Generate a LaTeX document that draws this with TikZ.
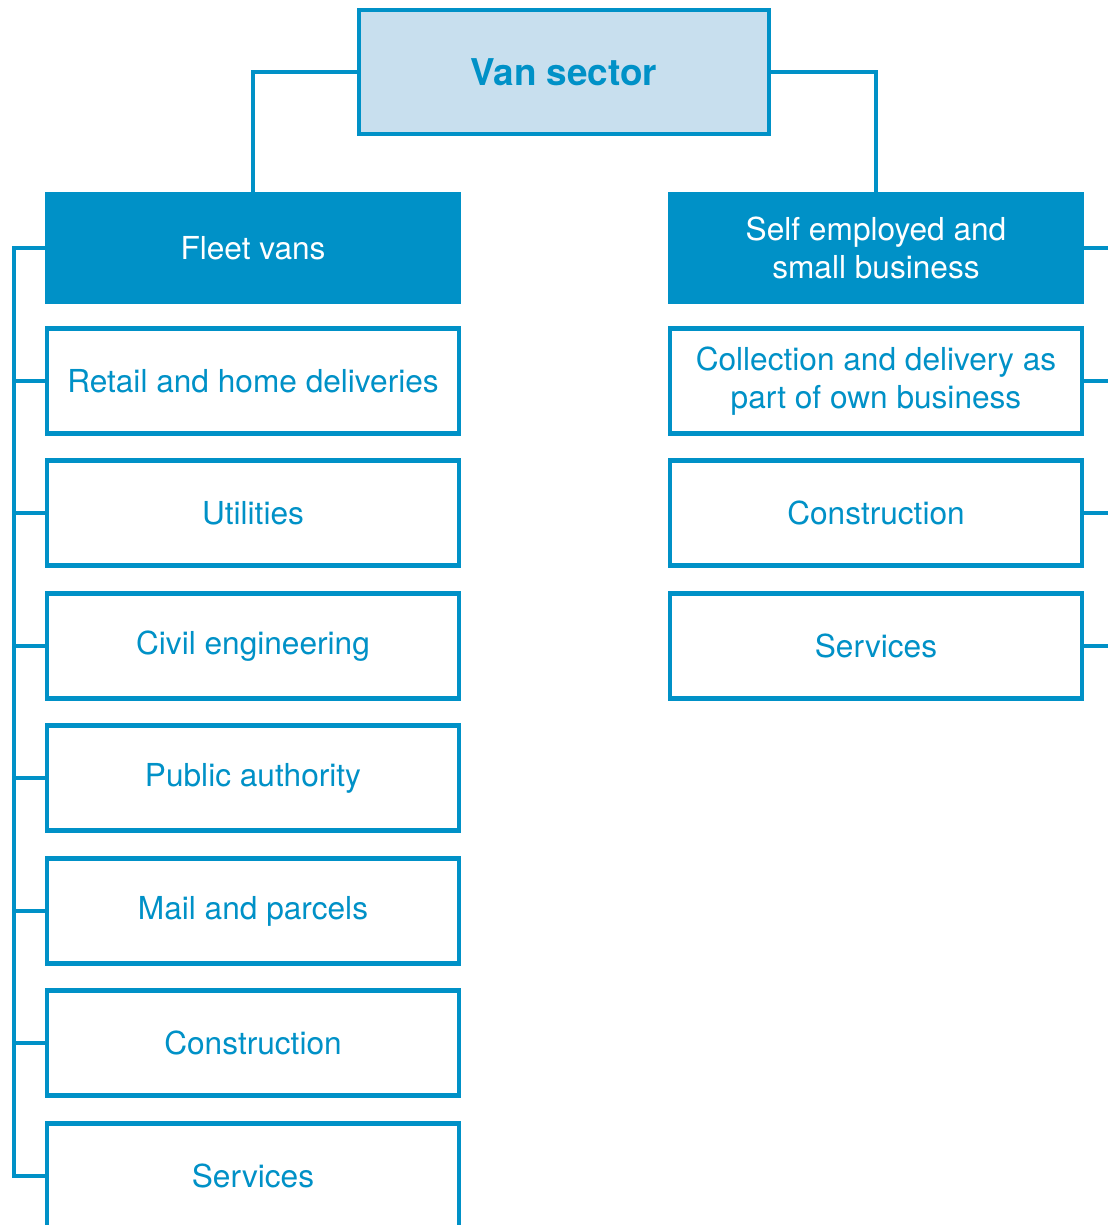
\documentclass[tikz,border=0pt]{standalone}
\usepackage{fontspec}
\setmainfont{TeX Gyre Heros}
\definecolor{vanblue}{HTML}{0091C7}
\definecolor{vanpale}{HTML}{C8DFEE}
\begin{document}
\begin{tikzpicture}[
    x=0.02cm, y=-0.02cm,
    link/.style={draw=vanblue, line width=2.3pt},
    rootbox/.style={draw=vanblue, line width=2.3pt, fill=vanpale, minimum width=410*0.02cm, minimum height=124*0.02cm, inner sep=0pt, font=\fontsize{21}{25}\selectfont\bfseries, text=vanblue},
    groupbox/.style={draw=vanblue, line width=2.3pt, fill=vanblue, minimum width=412*0.02cm, minimum height=107*0.02cm, inner sep=0pt, align=center, font=\fontsize{18}{22}\selectfont, text=white},
    itembox/.style={draw=vanblue, line width=2.3pt, fill=white, minimum width=412*0.02cm, minimum height=105*0.02cm, inner sep=0pt, align=center, font=\fontsize{18}{22}\selectfont, text=vanblue}
]
\path[use as bounding box, clip] (0,0) rectangle (1108,1225);

% Root
\node[rootbox] (van) at (564,72) {Van sector};

% Two groups
\node[groupbox] (fleet) at (253,248) {Fleet vans};
\node[groupbox] (self) at (876,248) {Self employed and\\small business};

\draw[link] (van.west) -| (fleet.north);
\draw[link] (van.east) -| (self.north);

% Fleet vans items
\node[itembox] (f1) at (253,381) {Retail and home deliveries};
\node[itembox] (f2) at (253,513) {Utilities};
\node[itembox] (f3) at (253,646) {Civil engineering};
\node[itembox] (f4) at (253,778) {Public authority};
\node[itembox] (f5) at (253,911) {Mail and parcels};
\node[itembox] (f6) at (253,1043) {Construction};
\node[itembox] (f7) at (253,1176) {Services};

% Self employed items
\node[itembox] (s1) at (876,381) {Collection and delivery as\\part of own business};
\node[itembox] (s2) at (876,513) {Construction};
\node[itembox] (s3) at (876,646) {Services};

% Left bus
\coordinate (lbus) at (14,0);
\draw[link] (fleet.west) -| (lbus |- f7.west) -- (f7.west);
\draw[link] (f1.west) -- (f1.west -| lbus);
\draw[link] (f2.west) -- (f2.west -| lbus);
\draw[link] (f3.west) -- (f3.west -| lbus);
\draw[link] (f4.west) -- (f4.west -| lbus);
\draw[link] (f5.west) -- (f5.west -| lbus);
\draw[link] (f6.west) -- (f6.west -| lbus);

% Right stubs
\coordinate (rbus) at (1112,0);
\draw[link] (self.east) -- (self.east -| rbus);
\draw[link] (s1.east) -- (s1.east -| rbus);
\draw[link] (s2.east) -- (s2.east -| rbus);
\draw[link] (s3.east) -- (s3.east -| rbus);

\end{tikzpicture}
\end{document}
